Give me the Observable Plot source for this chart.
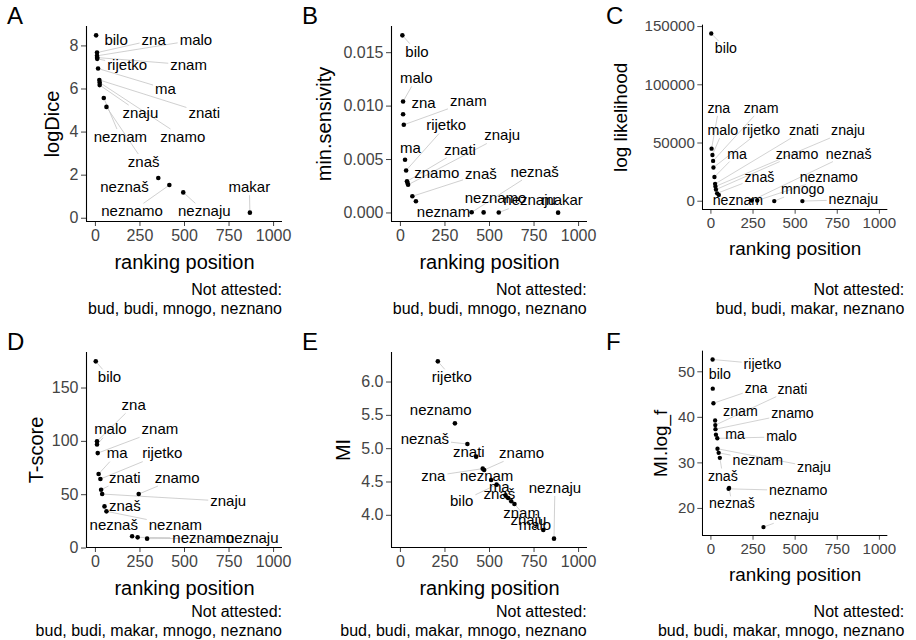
<!DOCTYPE html>
<html><head><meta charset="utf-8">
<script src="https://cdn.jsdelivr.net/npm/d3@7"></script>
<script src="https://cdn.jsdelivr.net/npm/@observablehq/plot@0.6"></script>
<style>
body{margin:0;background:#fff;}
#chart{position:relative;width:916px;height:640px;overflow:hidden;background:#fff;font-family:"Liberation Sans",Arial,sans-serif;}
.tag{position:absolute;font-size:24px;line-height:24px;color:#000;}
.cap{position:absolute;font-size:16px;line-height:19px;text-align:right;color:#000;white-space:nowrap;}
.panel{position:absolute;}
</style></head><body><div id="chart"></div>
<script>
// shared
const xTicks = [0, 250, 500, 750, 1000];
const xTitle = "ranking position";

// Panel A: logDice
const wordsA = ["bilo","zna","malo","znam","rijetko","ma","znati","znamo","znaju","neznam","znaš","neznaš","neznamo","neznaju","makar"];
const rankA = [4, 9, 9, 10, 10, 15, 22, 24, 24, 47, 62, 353, 415, 493, 867];
const valueA = [8.49, 7.69, 7.54, 7.46, 7.40, 6.95, 6.42, 6.30, 6.18, 5.58, 5.17, 1.87, 1.54, 1.20, 0.26];
const labelRankA = [116, 327, 564, 523, 178, 393, 611, 490, 252, 140, 271, 163, 206, 611, 864];
const labelValueA = [8.28, 8.28, 8.28, 7.12, 7.12, 6.01, 4.88, 3.77, 4.88, 3.77, 2.61, 1.44, 0.32, 0.32, 1.44];
const yTicksA = [0, 2, 4, 6, 8];
const missingA = ["bud", "budi", "mnogo", "neznano"];

// Panel B: min.sensivity
const wordsB = ["bilo","malo","zna","znam","ma","rijetko","znati","znamo","znaju","znaš","neznam","neznaš","neznamo","neznaju","makar"];
const rankB = [11, 15, 15, 19, 26, 32, 37, 40, 43, 67, 87, 400, 467, 552, 885];
const valueB = [0.01662, 0.01043, 0.00924, 0.00825, 0.00498, 0.00398, 0.00296, 0.00280, 0.00264, 0.00156, 0.00109, 0.00006, 0.00005, 0.00004, 0.00003];
const labelRankB = [93, 89, 130, 381, 56, 257, 335, 204, 571, 452, 242, 753, 534, 725, 907];
const labelValueB = [0.01509, 0.01260, 0.01027, 0.01043, 0.00607, 0.00818, 0.00591, 0.00373, 0.00725, 0.00364, 0.00010, 0.00383, 0.00134, 0.00115, 0.00115];
const yTicksB = [0, 0.005, 0.010, 0.015];
const missingB = ["bud", "budi", "mnogo", "neznano"];

// Panel C: log likelihood
const wordsC = ["bilo","zna","malo","znam","rijetko","ma","znati","znaju","znamo","znaš","neznam","neznaš","neznamo","mnogo","neznaju"];
const rankC = [2, 4, 9, 13, 15, 21, 25, 27, 30, 37, 47, 242, 275, 376, 543];
const valueC = [144054, 45163, 39730, 34622, 28946, 20838, 14900, 12700, 10000, 6800, 5400, 600, 600, 100, 100];
const labelRankC = [89, 47, 71, 298, 298, 155, 552, 814, 511, 288, 160, 818, 700, 545, 846];
const labelValueC = [131081, 79800, 60800, 79800, 60800, 40540, 60800, 60800, 40540, 20840, 570, 40540, 20840, 10050, 1380];
const yTicksC = [0, 50000, 100000, 150000];
const missingC = ["bud", "budi", "makar", "neznano"];

// Panel D: T-score
const wordsD = ["bilo","zna","malo","znam","ma","rijetko","znati","znaju","znamo","znaš","neznam","neznaš","neznamo","neznaju"];
const rankD = [2, 9, 9, 13, 18, 28, 32, 38, 243, 51, 62, 206, 237, 290];
const valueD = [175, 100, 97, 89, 69.4, 64.7, 54.7, 50.6, 50.6, 39, 34.4, 11, 10, 8.8];
const labelRankD = [79, 215, 84, 362, 122, 375, 165, 745, 459, 165, 449, 103, 605, 880];
const labelValueD = [160, 133.8, 111, 111, 88.5, 88.5, 65.6, 43.8, 65.6, 39.1, 21.3, 21.3, 9.4, 9.4];
const yTicksD = [0, 50, 100, 150];
const missingD = ["bud", "budi", "makar", "mnogo", "neznano"];

// Panel E: MI
const wordsE = ["rijetko","neznamo","neznaš","znati","zna","znamo","neznam","bilo","ma","znaš","znam","znaju","malo","neznaju"];
const rankE = [210, 306, 376, 425, 462, 470, 509, 540, 590, 605, 622, 640, 802, 862];
const valueE = [6.31, 5.38, 5.07, 4.88, 4.70, 4.68, 4.53, 4.46, 4.30, 4.26, 4.21, 4.17, 3.78, 3.65];
const labelRankE = [288, 226, 137, 384, 185, 680, 484, 344, 555, 555, 680, 718, 755, 867];
const labelValueE = [6.07, 5.58, 5.14, 4.94, 4.59, 4.93, 4.59, 4.21, 4.42, 4.32, 4.03, 3.93, 3.85, 4.41];
const yTicksE = [4.0, 4.5, 5.0, 5.5, 6.0];
const missingE = ["bud", "budi", "makar", "mnogo", "neznano"];

// Panel F: MI.log_f
const wordsF = ["rijetko","bilo","zna","znam","znati","znamo","ma","malo","znaju","neznam","znaš","neznamo","neznaš","neznaju"];
const rankF = [10, 11, 15, 25, 26, 27, 30, 38, 39, 46, 53, 105, 108, 312];
const valueF = [52.7, 46.3, 43.1, 39.3, 38.3, 37.4, 36.2, 35.4, 33.1, 32.2, 31.1, 24.3, 24.5, 15.9];
const labelRankF = [306, 53, 268, 175, 484, 484, 143, 419, 612, 278, 71, 518, 125, 494];
const labelValueF = [51.7, 49.4, 46.3, 41.4, 46.2, 40.9, 36.3, 35.7, 29.0, 30.6, 27.1, 23.9, 21.0, 18.4];
const yTicksF = [20, 30, 40, 50];
const missingF = ["bud", "budi", "makar", "mnogo", "neznano"];

const panels = [
  {tag:"A", title:"logDice", words:wordsA, ranks:rankA, values:valueA, lr:labelRankA, lv:labelValueA, yTicks:yTicksA, fmt:d3.format("d"), missing:missingA, col:0, row:0, titleDx:-34},
  {tag:"B", title:"min.sensivity", words:wordsB, ranks:rankB, values:valueB, lr:labelRankB, lv:labelValueB, yTicks:yTicksB, fmt:d3.format(".3f"), missing:missingB, col:1, row:0, titleDx:-67},
  {tag:"C", title:"log likelihood", words:wordsC, ranks:rankC, values:valueC, lr:labelRankC, lv:labelValueC, yTicks:yTicksC, fmt:d3.format("d"), missing:missingC, col:2, row:0, titleDx:-86},
  {tag:"D", title:"T-score", words:wordsD, ranks:rankD, values:valueD, lr:labelRankD, lv:labelValueD, yTicks:yTicksD, fmt:d3.format("d"), missing:missingD, col:0, row:1, titleDx:-50},
  {tag:"E", title:"MI", words:wordsE, ranks:rankE, values:valueE, lr:labelRankE, lv:labelValueE, yTicks:yTicksE, fmt:d3.format(".1f"), missing:missingE, col:1, row:1, titleDx:-48},
  {tag:"F", title:"MI.log_f", words:wordsF, ranks:rankF, values:valueF, lr:labelRankF, lv:labelValueF, yTicks:yTicksF, fmt:d3.format("d"), missing:missingF, col:2, row:1, titleDx:-44}
];

// layout
const colLeft = [86, 390.7, 708.3];
const tagLeft = [7, 302, 606];
const rowTop = [25.5, 351.5];
const FW = 196, FH = 195;
const mL = 110, mR = 30, mT = 25, mB = 75;

const chart = document.getElementById("chart");
const ctx = document.createElement("canvas").getContext("2d");
ctx.font = "15px 'Liberation Sans'";

for (const p of panels) {
  const width = mL + FW + mR, height = mT + FH + mB;
  const xDomain = [-50, 1050];
  const ext = d3.extent(p.values);
  const pad = (ext[1] - ext[0]) * 0.05;
  const yDomain = [ext[0] - pad, ext[1] + pad];
  const xs = d3.scaleLinear(xDomain, [mL, mL + FW]);
  const ys = d3.scaleLinear(yDomain, [mT + FH, mT]);
  const pts = p.words.map((w, i) => ({word: w, x: p.ranks[i], y: p.values[i], lx: p.lr[i], ly: p.lv[i]}));
  const segs = [];
  for (const d of pts) {
    const px = xs(d.x), py = ys(d.y), cx = xs(d.lx), cy = ys(d.ly);
    const hw = ctx.measureText(d.word).width / 2 + 2, hh = 8;
    const dx = px - cx, dy = py - cy;
    const t = Math.min(dx ? hw / Math.abs(dx) : Infinity, dy ? hh / Math.abs(dy) : Infinity);
    if (t >= 1) continue;
    const qx = cx + dx * t, qy = cy + dy * t;
    if (Math.hypot(px - qx, py - qy) < 8) continue;
    segs.push({x1: d.x, y1: d.y, x2: xs.invert(qx), y2: ys.invert(qy)});
  }
  const svg = Plot.plot({
    width, height, marginLeft: mL, marginRight: mR, marginTop: mT, marginBottom: mB,
    style: {fontFamily: "'Liberation Sans', Arial, sans-serif", overflow: "visible", background: "transparent"},
    x: {domain: xDomain, label: null},
    y: {domain: yDomain, label: null},
    marks: [
      Plot.link(segs, {x1: "x1", y1: "y1", x2: "x2", y2: "y2", stroke: "#c4c4c4", strokeWidth: 0.8}),
      Plot.dot(pts, {x: "x", y: "y", r: 2.3, fill: "black", stroke: "none"}),
      Plot.text(pts, {x: "lx", y: "ly", text: "word", fontSize: 15, fill: "black"}),
      Plot.axisX({ticks: xTicks, tickSize: 5, tickPadding: 3, fontSize: 16, color: "#444", tickFormat: d3.format("d"), label: null}),
      Plot.axisY({ticks: p.yTicks, tickSize: 5, tickPadding: 3, fontSize: 16, color: "#444", tickFormat: p.fmt, label: null}),
      Plot.ruleX([xDomain[0]], {stroke: "black", strokeWidth: 1.1}),
      Plot.ruleY([yDomain[0]], {stroke: "black", strokeWidth: 1.1}),
      Plot.text([xTitle], {text: d => d, frameAnchor: "bottom", dy: 41.5, fontSize: 20, fill: "black", textAnchor: "middle", lineAnchor: "middle"}),
      Plot.text([p.title], {text: d => d, frameAnchor: "left", dx: p.titleDx, rotate: -90, fontSize: 20, fill: "black", textAnchor: "middle", lineAnchor: "middle"})
    ]
  });
  const holder = document.createElement("div");
  holder.className = "panel";
  holder.style.left = (colLeft[p.col] - mL) + "px";
  holder.style.top = (rowTop[p.row] - mT) + "px";
  holder.appendChild(svg);
  chart.appendChild(holder);

  const tag = document.createElement("div");
  tag.className = "tag";
  tag.textContent = p.tag;
  tag.style.left = tagLeft[p.col] + "px";
  tag.style.top = (4 + p.row * 326) + "px";
  chart.appendChild(tag);

  const cap = document.createElement("div");
  cap.className = "cap";
  cap.innerHTML = "Not attested:<br>" + p.missing.join(", ");
  cap.style.right = (916 - (colLeft[p.col] + FW)) + "px";
  cap.style.top = (p.row === 0 ? 280 : 602) + "px";
  chart.appendChild(cap);
}
</script></body></html>
